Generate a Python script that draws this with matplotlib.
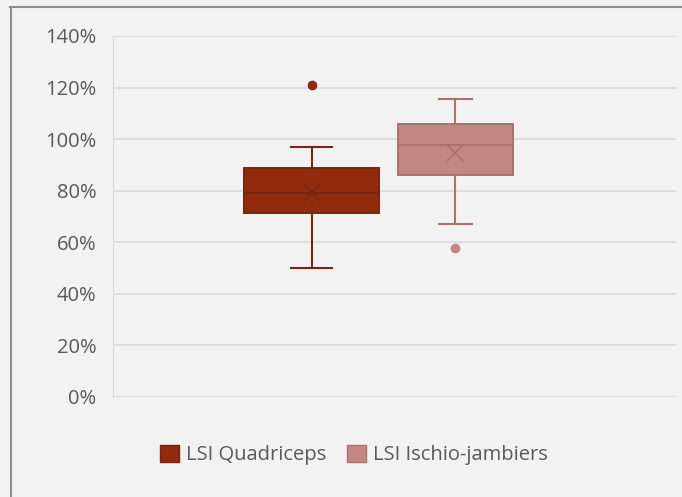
import matplotlib
matplotlib.use("Agg")
import matplotlib.pyplot as plt
from matplotlib.patches import Patch
from matplotlib.lines import Line2D
from matplotlib.ticker import FuncFormatter, MultipleLocator

plt.rcParams['font.family'] = ['Open Sans', 'DejaVu Sans']

series = ["LSI Quadriceps", "LSI Ischio-jambiers"]
whislo = [0.50, 0.67]
q1 = [0.712, 0.86]
med = [0.793, 0.979]
q3 = [0.888, 1.057]
whishi = [0.97, 1.156]
means = [0.79, 0.945]
outliers = [[1.21], [0.576]]

fills = ["#922B0C", "#C18780"]
edges = ["#7B2410", "#A9726C"]
positions = [0.3526, 0.6083]
widths = [0.24, 0.204]
capw = [0.073, 0.06]

fig = plt.figure(figsize=(6.82, 4.97), dpi=100)
fig.patch.set_facecolor("#F2F2F2")
ax = fig.add_axes([113/682, 1-397/497, 563/682, 361/497])
ax.set_facecolor("#F2F2F2")

for i in range(len(series)):
    st = dict(whislo=whislo[i], q1=q1[i], med=med[i], q3=q3[i], whishi=whishi[i],
              mean=means[i], fliers=outliers[i], label=series[i])
    ax.bxp([st], positions=[positions[i]], widths=[widths[i]], patch_artist=True,
           showmeans=True, capwidths=[capw[i]],
           boxprops=dict(facecolor=fills[i], edgecolor=edges[i], linewidth=1.4),
           medianprops=dict(color=edges[i], linewidth=1.4),
           whiskerprops=dict(color=edges[i], linewidth=1.5),
           capprops=dict(color=edges[i], linewidth=1.5),
           meanprops=dict(marker="x", markeredgecolor=edges[i], markersize=11, markeredgewidth=1.2),
           flierprops=dict(marker="o", markerfacecolor=fills[i], markeredgecolor=fills[i], markersize=6),
           manage_ticks=False, zorder=3)

ax.set_xlim(0, 1)
ax.set_ylim(0, 1.4)
ax.yaxis.set_major_locator(MultipleLocator(0.2))
ax.yaxis.set_major_formatter(FuncFormatter(lambda v, p: f"{v*100:.0f}%"))
ax.grid(axis="y", color="#D9D9D9", linewidth=1.2)
ax.set_axisbelow(True)
ax.set_xticks([])
for s in ["top", "right", "bottom"]:
    ax.spines[s].set_visible(False)
ax.spines["left"].set_color("#D9D9D9")
ax.tick_params(axis="y", length=0, pad=12, labelsize=14.5, labelcolor="#595959")

handles = [Patch(facecolor=fills[i], edgecolor=edges[i], label=series[i]) for i in range(2)]
fig.legend(handles=handles, loc="center", bbox_to_anchor=(354/682, 1-455/497), ncol=2,
           frameon=False, fontsize=14.5, labelcolor="#595959", handlelength=0.96, handleheight=0.96,
           handletextpad=0.35, columnspacing=1.0)

# chart border
fig.add_artist(Line2D([10/682, 1], [1-7/497, 1-7/497], color="#8C8C8C", linewidth=1.5))
fig.add_artist(Line2D([10.5/682, 10.5/682], [0, 1-7/497], color="#8C8C8C", linewidth=1.5))

fig.savefig("out.png", dpi=100, facecolor=fig.get_facecolor())
